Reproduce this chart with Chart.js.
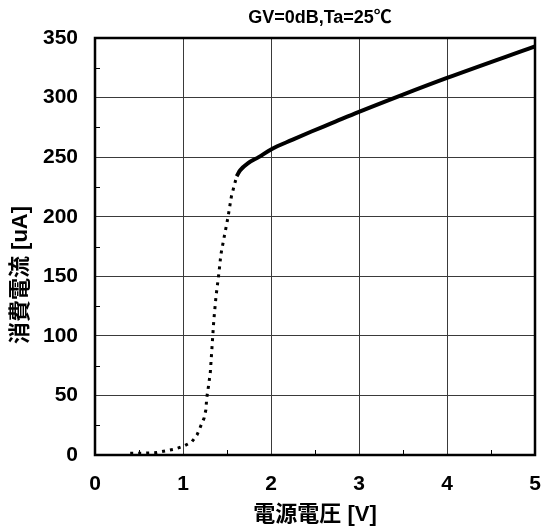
<!DOCTYPE html>
<html lang="ja">
<head>
<meta charset="UTF-8"/>
<title>消費電流</title>
<script src="https://cdn.jsdelivr.net/npm/chart.js"></script>
<style>
  html, body { margin: 0; padding: 0; background: #fff; }
  #wrap { width: 542px; height: 530px; }
</style>
</head>
<body>
<div id="wrap"><canvas id="myChart" width="542" height="530"></canvas></div>
<script>
// 電源電圧 [V] / 消費電流 [uA]
var dotV = [0.40, 0.55, 0.70, 0.80, 0.91, 1.01, 1.10, 1.16, 1.20, 1.24, 1.26, 1.27, 1.29, 1.31, 1.33, 1.35, 1.375, 1.41, 1.43, 1.46, 1.51, 1.55, 1.61];
var dotI = [1.5, 1.5, 2, 3.4, 5, 7.5, 11, 17, 24, 31, 38, 48, 58, 69, 91, 113, 133, 154, 168, 180, 199, 217, 234];
var solidV = [1.61, 1.65, 1.74, 1.86, 2.00, 2.24, 2.46, 2.69, 3.00, 3.50, 4.00, 5.00];
var solidI = [234, 239, 245, 250, 256.5, 264.5, 271.5, 278.5, 288, 302.5, 316.5, 343];

var xTicks = [0, 1, 2, 3, 4, 5];
var yTicks = [0, 50, 100, 150, 200, 250, 300, 350];
var titleText = 'GV=0dB,Ta=25℃';
var xTitle = '電源電圧 [V]';
var yTitle = '消費電流 [uA]';

var FONT = '"Liberation Sans", "Noto Sans CJK JP", sans-serif';

function pts(xs, ys) {
    return xs.map(function (v, i) { return { x: v, y: ys[i] }; });
}

// 枠・補助目盛・タイトル
var framePlugin = {
    id: 'frame',
    afterDatasetsDraw: function (chart) {
        var ctx = chart.ctx, a = chart.chartArea;
        var xs = chart.scales.x, ys = chart.scales.y;
        ctx.save();
        ctx.strokeStyle = '#000';
        ctx.lineWidth = 1;
        ctx.beginPath();
        for (var v = 0.5; v < 5; v += 1) {
            var px = Math.round(xs.getPixelForValue(v)) + 0.5;
            ctx.moveTo(px, a.bottom);
            ctx.lineTo(px, a.bottom - 5);
        }
        for (var w = 25; w < 350; w += 50) {
            var py = Math.round(ys.getPixelForValue(w)) + 0.5;
            ctx.moveTo(a.left, py);
            ctx.lineTo(a.left + 5, py);
        }
        ctx.stroke();
        ctx.lineWidth = 2.5;
        ctx.strokeRect(a.left, a.top, a.right - a.left, a.bottom - a.top);

        ctx.fillStyle = '#000';
        ctx.textAlign = 'center';
        ctx.textBaseline = 'middle';
        ctx.font = 'bold 18px ' + FONT;
        ctx.fillText(titleText, 320, 18);

        ctx.translate(21, 275);
        ctx.rotate(-Math.PI / 2);
        ctx.font = 'bold 22px ' + FONT;
        ctx.fillText(yTitle, 0, 0);
        ctx.restore();
    }
};

// 目盛ラベルの間隔は透明な tick で取る（ticks.padding は左右の余白に加算されるため）
var hidden = 'rgba(0,0,0,0)';

var ctx = document.getElementById('myChart').getContext('2d');
var myChart = new Chart(ctx, {
    type: 'scatter',
    data: {
        datasets: [{
            data: pts(dotV, dotI),
            showLine: true,
            borderColor: '#000',
            borderWidth: 3,
            borderDash: [3, 5],
            pointRadius: 0,
            tension: 0
        }, {
            data: pts(solidV, solidI),
            showLine: true,
            borderColor: '#000',
            borderWidth: 4,
            pointRadius: 0,
            cubicInterpolationMode: 'monotone'
        }]
    },
    options: {
        responsive: false,
        animation: false,
        layout: { padding: { left: 0, right: 7, top: 38, bottom: 0 } },
        plugins: {
            legend: { display: false },
            tooltip: { enabled: false }
        },
        scales: {
            x: {
                type: 'linear',
                min: 0,
                max: 5,
                afterFit: function (s) { s.height = 75; },
                afterBuildTicks: function (s) {
                    s.ticks = xTicks.map(function (v) { return { value: v }; });
                },
                grid: { color: '#3a3a3a', lineWidth: 1, drawTicks: true, tickLength: 17, tickColor: hidden },
                border: { display: false },
                ticks: {
                    padding: 0,
                    color: '#000',
                    font: { family: FONT, size: 21, weight: 'bold' }
                },
                title: {
                    display: true,
                    text: xTitle,
                    color: '#000',
                    padding: { top: 0, bottom: 2 },
                    font: { family: FONT, size: 22, weight: 'bold' }
                }
            },
            y: {
                type: 'linear',
                min: 0,
                max: 350,
                afterFit: function (s) { s.width = 95; },
                afterBuildTicks: function (s) {
                    s.ticks = yTicks.map(function (v) { return { value: v }; });
                },
                grid: { color: '#3a3a3a', lineWidth: 1, drawTicks: true, tickLength: 17, tickColor: hidden },
                border: { display: false },
                ticks: {
                    padding: 0,
                    color: '#000',
                    font: { family: FONT, size: 21, weight: 'bold' }
                }
            }
        }
    },
    plugins: [framePlugin]
});
</script>
</body>
</html>
